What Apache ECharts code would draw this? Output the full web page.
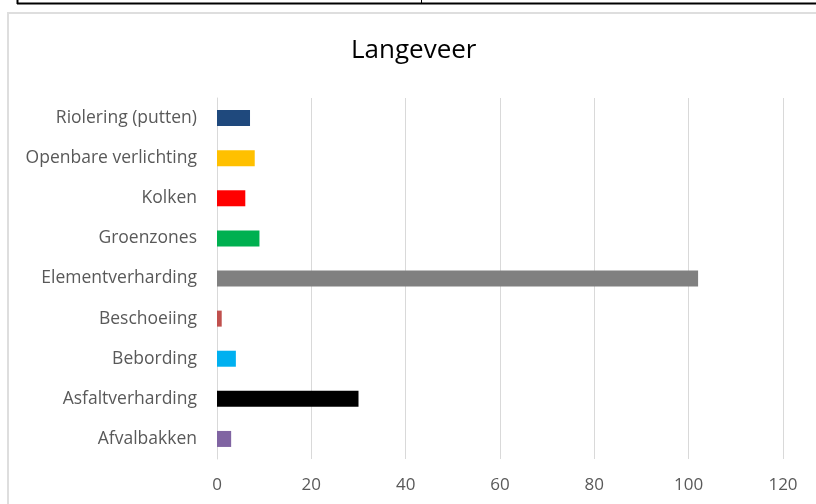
<!DOCTYPE html>
<html>
<head>
<meta charset="utf-8">
<script src="https://cdn.jsdelivr.net/npm/echarts@6/dist/echarts.min.js"></script>
<style>
  html, body { margin: 0; padding: 0; background: #fff; }
  #chart { width: 816px; height: 504px; }
</style>
</head>
<body>
<div id="chart"></div>
<script>
// categories top to bottom
const categories = ['Riolering (putten)', 'Openbare verlichting', 'Kolken', 'Groenzones',
    'Elementverharding', 'Beschoeiing', 'Bebording', 'Asfaltverharding', 'Afvalbakken'];
const values = [7, 8, 6, 9, 102, 1, 4, 30, 3];
const barColors = ['#1F497D', '#FFC000', '#FF0000', '#00B050', '#808080',
    '#C0504D', '#00B0F0', '#000000', '#8064A2'];
const xTicks = [0, 20, 40, 60, 80, 100, 120];

const chartDom = document.getElementById('chart');
const myChart = echarts.init(chartDom);
const font = 'Open Sans';

const option = {
    animation: false,
    title: {
        text: 'Langeveer',
        left: 346,
        top: 33,
        textStyle: { fontFamily: font, fontSize: 26, fontWeight: 'normal', color: '#000' }
    },
    graphic: [
        // table border above the chart
        { type: 'line', shape: { x1: 17, y1: 3.5, x2: 816, y2: 3.5 }, style: { stroke: '#000', lineWidth: 2 } },
        { type: 'line', shape: { x1: 17.5, y1: 0, x2: 17.5, y2: 4 }, style: { stroke: '#000', lineWidth: 2 } },
        { type: 'line', shape: { x1: 421.5, y1: 0, x2: 421.5, y2: 4 }, style: { stroke: '#000', lineWidth: 1 } },
        // chart area border
        { type: 'rect', shape: { x: 8, y: 13, width: 820, height: 520 }, style: { fill: 'none', stroke: '#dedede', lineWidth: 2 } }
    ],
    grid: { left: 217, right: 33, top: 98, bottom: 45 },
    xAxis: {
        type: 'value',
        min: xTicks[0],
        max: xTicks[xTicks.length - 1],
        interval: 20,
        axisLine: { show: false },
        axisTick: { show: false },
        axisLabel: { margin: 18, fontFamily: font, fontSize: 17, color: '#595959' },
        splitLine: { lineStyle: { color: '#d9d9d9', width: 1 } }
    },
    yAxis: {
        type: 'category',
        inverse: true,
        data: categories,
        axisLine: { lineStyle: { color: '#d9d9d9', width: 1 } },
        axisTick: { show: false },
        axisLabel: { margin: 20, fontFamily: font, fontSize: 17.5, color: '#595959' }
    },
    series: [
        {
            type: 'bar',
            barWidth: 16,
            data: values.map((v, i) => ({ value: v, itemStyle: { color: barColors[i] } }))
        }
    ]
};

myChart.setOption(option);

window.addEventListener('resize', () => {
    myChart.resize();
});
</script>
</body>
</html>
